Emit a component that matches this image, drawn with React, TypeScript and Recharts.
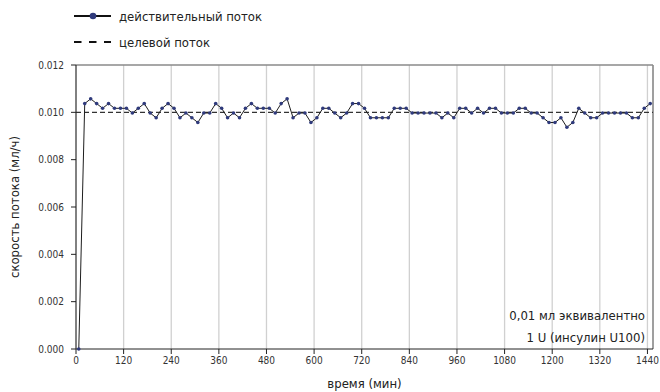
import { LineChart, Line, XAxis, YAxis, CartesianGrid, ReferenceLine } from 'recharts';

// minutes since start
const times = [
  7, 22, 37, 52, 67, 82, 97, 112, 127, 142, 157, 172, 187, 202, 217, 232, 247, 262, 277, 292,
  307, 322, 337, 352, 367, 382, 397, 412, 427, 442, 457, 472, 487, 502, 517, 532, 547, 562, 577, 592,
  607, 622, 637, 652, 667, 682, 697, 712, 727, 742, 757, 772, 787, 802, 817, 832, 847, 862, 877, 892,
  907, 922, 937, 952, 967, 982, 997, 1012, 1027, 1042, 1057, 1072, 1087, 1102, 1117, 1132, 1147, 1162, 1177, 1192,
  1207, 1222, 1237, 1252, 1267, 1282, 1297, 1312, 1327, 1342, 1357, 1372, 1387, 1402, 1417, 1432, 1447,
];

// measured flow, ml/h
const actualFlow = [
  0,
  0.01037, 0.01057, 0.01037, 0.01017, 0.01037, 0.01017, 0.01017, 0.01017, 0.00997, 0.01017,
  0.01037, 0.00997, 0.00977, 0.01017, 0.01037, 0.01017, 0.00977, 0.00997, 0.00977, 0.00957,
  0.00997, 0.00997, 0.01037, 0.01017, 0.00977, 0.00997, 0.00977, 0.01017, 0.01037, 0.01017,
  0.01017, 0.01017, 0.00997, 0.01037, 0.01057, 0.00977, 0.00997, 0.00997, 0.00957, 0.00977,
  0.01017, 0.01017, 0.00997, 0.00977, 0.00997, 0.01037, 0.01037, 0.01017, 0.00977, 0.00977,
  0.00977, 0.00977, 0.01017, 0.01017, 0.01017, 0.00997, 0.00997, 0.00997, 0.00997, 0.00997,
  0.00977, 0.00997, 0.00977, 0.01017, 0.01017, 0.00997, 0.01017, 0.00997, 0.01017, 0.01017,
  0.00997, 0.00997, 0.00997, 0.01017, 0.01017, 0.00997, 0.00997, 0.00977, 0.00957, 0.00957,
  0.00977, 0.00937, 0.00957, 0.01017, 0.00997, 0.00977, 0.00977, 0.00997, 0.00997, 0.00997,
  0.00997, 0.00997, 0.00977, 0.00977, 0.01017, 0.01037,
];

const targetFlow = 0.01;
const xTicks = [0, 120, 240, 360, 480, 600, 720, 840, 960, 1080, 1200, 1320, 1440];
const yTicks = [0, 0.002, 0.004, 0.006, 0.008, 0.01, 0.012];
const xMax = 1454;

const data = times.map((t, i) => ({ t, flow: actualFlow[i] }));

const FONT = "'Liberation Sans Narrow', 'DejaVu Sans Condensed', Roboto, sans-serif";
const LINE_COLOR = '#1e1e1e';
const DOT_COLOR = '#2f3a7c';

export default function App() {
  return (
    <div style={{ position: 'absolute', left: 0, top: 0, width: 660, height: 392, background: '#fff', fontFamily: FONT }}>
      <LineChart width={660} height={392} data={data} margin={{ top: 65, right: 7, bottom: 0, left: 0 }}>
        <CartesianGrid horizontal={false} stroke="#d0d0d0" strokeWidth={1.3} />
        <ReferenceLine y={0.012} stroke="#8a8a8a" strokeWidth={1.5} />
        <ReferenceLine x={xMax} stroke="#8a8a8a" strokeWidth={1.5} />
        <XAxis
          dataKey="t"
          type="number"
          domain={[0, xMax]}
          ticks={xTicks}
          height={43}
          stroke="#222"
          tickSize={5}
          tickMargin={3}
          tick={{ fontSize: 10, fill: '#333', fontFamily: FONT }}
          label={{ value: 'время (мин)', position: 'insideBottom', offset: 4, fontSize: 13, fill: '#222', fontFamily: FONT }}
        />
        <YAxis
          type="number"
          domain={[0, 0.012]}
          ticks={yTicks}
          width={76}
          stroke="#222"
          tickSize={5}
          tickMargin={7}
          tickFormatter={(v: number) => v.toFixed(3)}
          tick={{ fontSize: 10, fill: '#333', fontFamily: FONT }}
          label={{ value: 'скорость потока (мл/ч)', angle: -90, position: 'center', dx: -24, fontSize: 13, fill: '#222', fontFamily: FONT }}
        />
        <ReferenceLine y={targetFlow} stroke="#333" strokeDasharray="5 3" strokeWidth={1.2} />
        <Line
          dataKey="flow"
          stroke={LINE_COLOR}
          strokeWidth={1}
          dot={{ r: 1.8, fill: DOT_COLOR, stroke: 'none' }}
          isAnimationActive={false}
        />
      </LineChart>

      <div style={{ position: 'absolute', left: 0, top: 0, width: 660, fontSize: 13, color: '#222' }}>
        <div style={{ position: 'absolute', left: 74, top: 6, display: 'flex', alignItems: 'center', height: 20 }}>
          <svg width={37} height={8}>
            <line x1={0} y1={4} x2={37} y2={4} stroke="#111" strokeWidth={2} />
            <circle cx={19} cy={4} r={3.3} fill={DOT_COLOR} />
          </svg>
          <span style={{ marginLeft: 8 }}>действительный поток</span>
        </div>
        <div style={{ position: 'absolute', left: 74, top: 32, display: 'flex', alignItems: 'center', height: 20 }}>
          <svg width={37} height={8}>
            <line x1={0} y1={4} x2={37} y2={4} stroke="#111" strokeWidth={2} strokeDasharray="7.5 7.5" />
          </svg>
          <span style={{ marginLeft: 8 }}>целевой поток</span>
        </div>
      </div>

      <div style={{ position: 'absolute', right: 15, top: 305, textAlign: 'right', fontSize: 13, lineHeight: '22px', color: '#222' }}>
        <div>0,01 мл эквивалентно</div>
        <div>1 U (инсулин U100)</div>
      </div>
    </div>
  );
}
